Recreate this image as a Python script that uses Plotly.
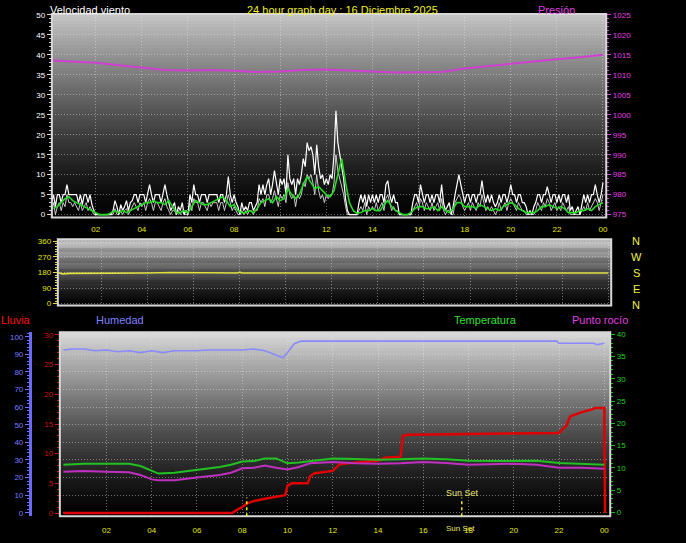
import plotly.graph_objects as go

W, H = 686, 543

# ---------------- DATA ----------------
# Wind gust (km/h) every 5 minutes, 12 values per hour (00:05 .. 24:00)
gust = [
    3, 5, 2, 5, 5, 3, 5, 5, 7.5, 5, 5, 5,
    5, 5, 3, 5, 2.5, 5, 5, 3, 5, 2.5, 1, 0,
    0, 0, 0, 0, 0, 0, 0, 0, 1, 3.5, 2, 0,
    2.5, 1, 2, 3.5, 1, 3, 3.5, 5, 5, 3, 5, 5,
    5, 3, 5, 7.5, 5, 3, 5, 5, 5, 3, 5, 7.5,
    5, 3, 1, 2, 3, 0, 2, 1, 3, 0, 1, 0,
    5, 3, 7.5, 5, 5, 3, 5, 5, 5, 3, 5, 5,
    5, 5, 5, 3, 5, 5, 3, 5, 9.5, 5, 3, 5,
    3, 2, 0, 3, 1, 2, 1, 3, 3, 1, 2, 3,
    7.5, 5, 7.5, 5, 7.5, 9, 5, 7.5, 11, 7.5, 5, 9,
    7.5, 9, 5, 15, 9, 7.5, 9, 5, 9, 7.5, 10, 14,
    12, 18, 16, 17, 15, 10, 17.5, 12, 9, 10, 7.5, 9,
    7.5, 10, 9, 15, 26, 18, 15, 12, 9, 4, 1, 0,
    0, 0, 0, 0, 3, 5, 3, 5, 2, 5, 3, 5,
    3, 5, 3, 5, 5, 3, 7.5, 8.5, 5, 3, 5, 3,
    3, 0, 0, 0, 0, 0, 0, 0, 3, 5, 5, 3,
    7.5, 5, 3, 5, 5, 3, 5, 3, 5, 5, 3, 7.5,
    3, 1, 2, 3, 0, 2, 5, 7.5, 10, 7.5, 5, 3,
    5, 5, 3, 5, 5, 3, 5, 5, 8.5, 5, 3, 5,
    3, 5, 3, 2, 3, 5, 3, 5, 5, 3, 5, 7.5,
    5, 5, 3, 5, 5, 3, 3, 2, 0, 1, 0, 2,
    3, 5, 5, 3, 5, 5, 7, 5, 3, 5, 5, 3,
    5, 3, 5, 5, 3, 5, 1, 2, 0, 1, 2, 0,
    3, 5, 3, 5, 3, 5, 5, 7.5, 5, 3, 5, 8,
]
# Wind speed (km/h) every 5 minutes
speed = [
    1, 3, 0, 2, 3, 1, 3, 2, 5, 3, 3, 2,
    3, 2, 1, 3, 1, 2, 3, 1, 2, 1, 0, 0,
    0, 0, 0, 0, 0, 0, 0, 0, 0, 1.5, 0, 0,
    1, 0, 1, 1.5, 0, 1, 2, 3, 2, 1, 3, 2,
    3, 1, 3, 4, 3, 1, 3, 3, 2, 1, 3, 4,
    2, 1, 0, 1, 1, 0, 1, 0, 1, 0, 0, 0,
    3, 1, 4, 3, 3, 1, 3, 3, 2, 1, 3, 2,
    3, 3, 3, 1, 3, 3, 1, 3, 5, 3, 1, 2,
    1, 0, 0, 1, 0, 1, 0, 1, 1, 0, 1, 1,
    4, 3, 4, 2, 5, 5, 3, 4, 6, 4, 2, 5,
    4, 5, 3, 8, 5, 4, 5, 2, 5, 4, 5, 8,
    7, 10, 9, 10, 8, 5, 10, 6, 4, 5, 3, 5,
    4, 5, 5, 8, 15, 11, 9, 7, 5, 2, 0, 0,
    0, 0, 0, 0, 1, 2, 1, 3, 0, 2, 1, 2,
    1, 3, 1, 2, 3, 1, 4, 5, 3, 1, 2, 1,
    1, 0, 0, 0, 0, 0, 0, 0, 1, 2, 3, 1,
    4, 3, 1, 3, 2, 1, 3, 1, 2, 3, 1, 4,
    1, 0, 1, 1, 0, 0, 3, 4, 5, 4, 2, 1,
    2, 3, 1, 3, 2, 1, 3, 2, 5, 3, 1, 2,
    1, 2, 1, 0, 1, 3, 1, 2, 3, 1, 3, 4,
    3, 2, 1, 3, 2, 1, 1, 0, 0, 0, 0, 0,
    1, 3, 2, 1, 3, 2, 4, 3, 1, 2, 3, 1,
    2, 1, 3, 2, 1, 2, 0, 0, 0, 0, 0, 0,
    1, 2, 1, 3, 1, 2, 3, 4, 3, 1, 3, 5,
]
# Average wind (km/h) every 10 minutes, 6 values per hour
wind_avg = [
    1.5, 2, 3, 4, 4.5, 3.5,
    3, 2.5, 2, 1.5, 1, 0.5,
    0, 0, 0, 0.5, 1, 0.5,
    1, 0.5, 1, 1.5, 2, 2.5,
    3, 3, 3.5, 3, 3, 2.5,
    3.5, 2, 0.5, 0.5, 1, 0.5,
    2, 3.5, 3, 2.5, 2.5, 3,
    3.5, 4, 4.5, 3.5, 2, 2.5,
    1, 0.5, 0.5, 1, 0.5, 1.5,
    3, 3.5, 4, 3, 4.5, 3.5,
    4, 6.5, 5, 4, 5, 7.5,
    9.5, 8, 6.5, 7, 6, 5,
    4.5, 6, 10, 14, 8, 3,
    1, 0.3, 0.5, 1, 1, 1.5,
    1, 1, 2.5, 3.5, 2, 1,
    0.5, 0, 0, 0.5, 1.5, 2,
    2, 1.5, 1.5, 2, 1, 2,
    1, 0.5, 1.5, 3, 3, 2,
    2, 2, 1.5, 2.5, 2, 1.5,
    1, 1.5, 1, 2, 2.5, 3,
    2.5, 1.5, 1, 0.5, 0.5, 0.5,
    1, 2, 2, 2.5, 2, 1.5,
    2, 1.5, 0.5, 0.5, 0.5, 1,
    1, 1.5, 1, 2, 2.5, 3,
]
t5 = [(i + 1) * 5 / 60 for i in range(len(gust))]
t10 = [(i + 1) * 10 / 60 for i in range(len(wind_avg))]

press_t = [0.1, 1, 2, 3, 4, 5, 6, 7, 8, 9, 10, 11, 12, 13, 14, 15, 16, 17, 18, 19, 20, 21, 22, 23, 24]
pressure = [1013.6, 1013.4, 1013.0, 1012.4, 1011.8, 1011.2, 1011.1, 1011.2, 1011.0, 1010.7, 1010.8,
            1011.2, 1011.3, 1011.0, 1010.8, 1010.6, 1010.6, 1010.7, 1011.6, 1012.2, 1012.7, 1013.3,
            1013.9, 1014.4, 1015.0]

dir_t = [0.1, 0.3, 0.6, 1, 2, 3, 4, 5, 6, 7, 7.9, 8.0, 8.1, 9, 10, 11, 12, 13, 14, 15, 16, 17, 18, 19, 20, 21, 22, 23, 24]
wind_dir = [180, 172, 175, 175, 175, 176, 177, 180, 180, 178, 177, 182, 177, 177, 177, 177, 177, 177,
            177, 177, 177, 177, 177, 177, 177, 177, 177, 177, 177]

hum_t = [0.1, 0.5, 1.0, 1.5, 2.0, 2.5, 3.0, 3.5, 4.0, 4.5, 5.0, 5.5, 6.0, 6.5, 7.0, 7.5, 8.0, 8.5, 9.0,
         9.4, 9.8, 10.0, 10.3, 10.6, 11, 12, 13, 14, 15, 16, 17, 18, 19, 20, 21, 21.9, 22.0, 23.0, 23.5,
         23.7, 24.0]
humidity = [92.5, 93, 93, 92, 92.5, 91.5, 92, 91, 92, 91, 92, 92, 92, 92.5, 92.5, 92.5, 92.5, 93, 92,
            90, 88, 91, 96, 97.5, 97.5, 97.5, 97.5, 97.5, 97.5, 97.5, 97.5, 97.5, 97.5, 97.5, 97.5,
            97.5, 96.3, 96.3, 96.3, 95.5, 96.3]

td_t = [0.1, 1, 2, 3, 3.5, 4, 4.3, 5, 6, 7, 7.5, 8, 8.5, 9, 9.5, 10, 10.5, 11, 12, 13, 14, 15, 16, 17,
        18, 19, 20, 21, 22, 23, 24]
temperature = [10.7, 10.9, 10.9, 10.9, 10.4, 9.3, 8.7, 8.9, 9.5, 10.2, 10.7, 11.4, 11.5, 12.1, 12.1,
               11.0, 11.2, 11.5, 12.1, 12.0, 11.8, 11.9, 12.1, 11.9, 11.6, 11.5, 11.5, 11.6, 11.1,
               10.9, 10.7]
dewpoint = [9.1, 9.3, 9.1, 9.0, 8.4, 7.4, 7.2, 7.2, 7.8, 8.4, 8.9, 9.9, 10.0, 10.5, 10.0, 9.6, 10.2,
            11.0, 11.3, 11.0, 10.9, 11.0, 11.3, 11.1, 10.7, 10.8, 10.9, 10.7, 10.0, 10.0, 9.8]

rain_t = [0.1, 7.55, 7.8, 8.0, 8.2, 8.5, 9.0, 9.5, 9.9, 10.0, 10.2, 10.9, 11.0, 11.2, 12.0, 12.3,
          12.5, 13.0, 14.0, 14.3, 15.0, 15.1, 15.3, 18.0, 20.0, 21.0, 22.0, 22.2, 22.3, 22.5, 22.7,
          23.0, 23.5, 23.6, 24.0, 24.03]
rain = [0, 0, 0.6, 1.0, 1.6, 2.0, 2.4, 2.8, 3.0, 4.6, 5.0, 5.0, 6.2, 6.7, 7.1, 8.2, 8.3, 8.5, 8.8,
        9.3, 9.5, 13.0, 13.2, 13.3, 13.4, 13.4, 13.5, 14.3, 14.6, 16.3, 16.6, 17.0, 17.5, 17.7,
        17.7, 0]

hour_ticks = [2, 4, 6, 8, 10, 12, 14, 16, 18, 20, 22, 24]
hour_labels = ["02", "04", "06", "08", "10", "12", "14", "16", "18", "20", "22", "00"]
sunrise_h = 8.2
sunset_h = 17.7

# ---------------- STYLE ----------------
FONT = "Liberation Sans"
YEL = "#e6e600"
GRID = "rgba(235,235,235,0.45)"
GDASH = "1px,2px"


def px(xp):
    return xp / W


def py(yp):
    return 1 - yp / H


fig = go.Figure()

# top panel
fig.add_trace(go.Scatter(x=t5, y=speed, xaxis="x", yaxis="y", mode="lines",
                         line=dict(color="rgba(220,220,220,0.9)", width=1), hoverinfo="skip"))
fig.add_trace(go.Scatter(x=t5, y=gust, xaxis="x", yaxis="y", mode="lines",
                         line=dict(color="#ffffff", width=1.2), hoverinfo="skip"))
fig.add_trace(go.Scatter(x=t10, y=wind_avg, xaxis="x", yaxis="y", mode="lines",
                         line=dict(color="#22dd22", width=1.6), hoverinfo="skip"))
fig.add_trace(go.Scatter(x=press_t, y=pressure, xaxis="x", yaxis="y2", mode="lines",
                         line=dict(color="#d040d0", width=2), hoverinfo="skip"))
# middle panel
fig.add_trace(go.Scatter(x=dir_t, y=wind_dir, xaxis="x2", yaxis="y3", mode="lines",
                         line=dict(color="#e0e040", width=1.6), hoverinfo="skip"))
# bottom panel
fig.add_trace(go.Scatter(x=rain_t, y=rain, xaxis="x3", yaxis="y4", mode="lines",
                         line=dict(color="#e00000", width=2.5), hoverinfo="skip"))
fig.add_trace(go.Scatter(x=hum_t, y=humidity, xaxis="x3", yaxis="y5", mode="lines",
                         line=dict(color="#8a8aff", width=1.6), hoverinfo="skip"))
fig.add_trace(go.Scatter(x=td_t, y=dewpoint, xaxis="x3", yaxis="y6", mode="lines",
                         line=dict(color="#c030c0", width=2), hoverinfo="skip"))
fig.add_trace(go.Scatter(x=td_t, y=temperature, xaxis="x3", yaxis="y6", mode="lines",
                         line=dict(color="#22c022", width=2), hoverinfo="skip"))

shapes = []


def gradient(xref, yref, top):
    n = 60
    for i in range(n):
        f = (i + 0.5) / n
        c = int(round(top * (1 - f) ** 1.3))
        y0 = max(0.0, 1 - (i + 1) / n - 0.004)
        y1 = 1 - i / n
        shapes.append(dict(type="rect", xref=xref, yref=yref, x0=0, x1=1,
                           y0=y0, y1=y1, layer="below",
                           fillcolor=f"rgb({c},{c},{c})", line=dict(width=0)))


gradient("x domain", "y domain", 198)
gradient("x2 domain", "y3 domain", 208)
gradient("x3 domain", "y4 domain", 218)

for xr, yr in [("x domain", "y domain"), ("x2 domain", "y3 domain"), ("x3 domain", "y4 domain")]:
    shapes.append(dict(type="rect", xref=xr, yref=yr, x0=0, x1=1, y0=0, y1=1, layer="above",
                       line=dict(color="#d8d8d8", width=2), fillcolor="rgba(0,0,0,0)"))

for h in [sunrise_h, sunset_h]:
    shapes.append(dict(type="line", xref="x3", yref="y4", x0=h, x1=h, y0=-0.55, y1=2.6,
                       line=dict(color="#f0f000", width=1.5, dash="dot"), layer="above"))


def yax(**kw):
    base = dict(showgrid=False, zeroline=False, showline=False, ticks="outside", ticklen=4,
                tickwidth=1)
    base.update(kw)
    return base


def xax(**kw):
    base = dict(showgrid=True, gridcolor=GRID, griddash=GDASH, gridwidth=1, zeroline=False,
                showline=False, ticks="", tickvals=hour_ticks, ticktext=hour_labels,
                tickfont=dict(color=YEL, size=8, family=FONT))
    base.update(kw)
    return base


layout = dict(
    width=W, height=H, margin=dict(l=0, r=0, t=0, b=0), autosize=False,
    paper_bgcolor="black", plot_bgcolor="black", showlegend=False,
    font=dict(family=FONT, size=8, color="white"),
    shapes=shapes,
    xaxis=xax(domain=[px(52), px(608)], range=[0.095, 24.14], anchor="y", ticklabelstandoff=5),
    xaxis2=xax(domain=[px(58), px(613)], range=[0.1, 24.13], anchor="y3", showticklabels=False),
    xaxis3=xax(domain=[px(60), px(612)], range=[-0.06, 24.26], anchor="y4", ticklabelstandoff=8),
    yaxis=yax(domain=[py(217), py(11)], range=[-0.75, 50.25], dtick=5, tick0=0, anchor="x",
              tickcolor="#e0e0e0", tickfont=dict(color="#ffffff", size=8, family=FONT),
              showgrid=True, gridcolor=GRID, griddash=GDASH,
              minor=dict(ticks="outside", ticklen=2, dtick=1, tickcolor="#d0d0d0", showgrid=False)),
    yaxis2=yax(overlaying="y", side="right", anchor="x", range=[974.25, 1025.25], dtick=5, tick0=975,
               tickcolor="#d040d0", tickfont=dict(color="#e040e0", size=8, family=FONT),
               minor=dict(ticks="outside", ticklen=2, dtick=1, tickcolor="#d040d0", showgrid=False)),
    yaxis3=yax(domain=[py(306), py(239)], range=[-11.4, 371.4], tickvals=[0, 90, 180, 270, 360],
               anchor="x2", tickcolor="#e0e040", tickfont=dict(color="#e6e600", size=8, family=FONT),
               showgrid=True, gridcolor=GRID, griddash=GDASH,
               minor=dict(ticks="outside", ticklen=2, dtick=15, tickcolor="#e0e040", showgrid=False)),
    yaxis4=yax(domain=[py(519), py(333)], range=[-0.55, 30.45], dtick=5, tick0=0, anchor="x3",
               tickcolor="#d01010", tickfont=dict(color="#d01010", size=8, family=FONT),
               minor=dict(ticks="outside", ticklen=2, dtick=1, tickcolor="#d01010", showgrid=False)),
    yaxis5=yax(overlaying="y4", side="left", anchor="free", position=px(30), range=[-1.97, 102.5],
               dtick=10, tick0=0, tickcolor="#7070ff", showline=True, linecolor="#6a6aff", linewidth=3,
               tickfont=dict(color="#7c7cff", size=8, family=FONT),
               showgrid=True, gridcolor=GRID, griddash=GDASH,
               minor=dict(ticks="outside", ticklen=2, dtick=2, tickcolor="#7070ff", showgrid=False)),
    yaxis6=yax(overlaying="y4", side="right", anchor="x3", range=[-0.89, 40.44], dtick=5, tick0=0,
               tickcolor="#10c010", tickfont=dict(color="#20d020", size=8, family=FONT),
               minor=dict(ticks="outside", ticklen=2, dtick=1, tickcolor="#10c010", showgrid=False)),
)

ann = []


def label(text, xp, yp, color, size=11, xanchor="left"):
    ann.append(dict(text=text, x=px(xp), y=py(yp), xref="paper", yref="paper", showarrow=False,
                    xanchor=xanchor, yanchor="middle", font=dict(family=FONT, size=size, color=color)))


label("Velocidad viento", 48, 7, "#ffffff")
label("24 hour graph day : 16 Diciembre 2025", 343, 7, "#f0f020", xanchor="center")
label("Presión", 558, 7, "#e040e0", xanchor="center")
for letter, yp in zip(["N", "W", "S", "E", "N"], [241, 257, 273, 289, 305]):
    label(letter, 638, yp, "#f0f040", xanchor="center")
label("Lluvia", -1, 321, "#ff1010")
label("Humedad", 94, 321, "#8080ff")
label("Temperatura", 453, 321, "#30e030")
label("Punto rocío", 572, 321, "#e040e0")
label("Sun Set", 464, 495, "#e8e870", size=9, xanchor="center")
label("Sun Set", 462, 531, "#e8e870", size=8, xanchor="center")

layout["annotations"] = ann
fig.update_layout(**layout)
fig.write_html(
    "out.html",
    config={"displayModeBar": False},
    post_script=("document.body.style.margin='0';document.body.style.padding='0';"
                 "document.body.style.background='black';"
                 "document.documentElement.style.background='black';"
                 "document.body.style.overflow='hidden';"),
)
